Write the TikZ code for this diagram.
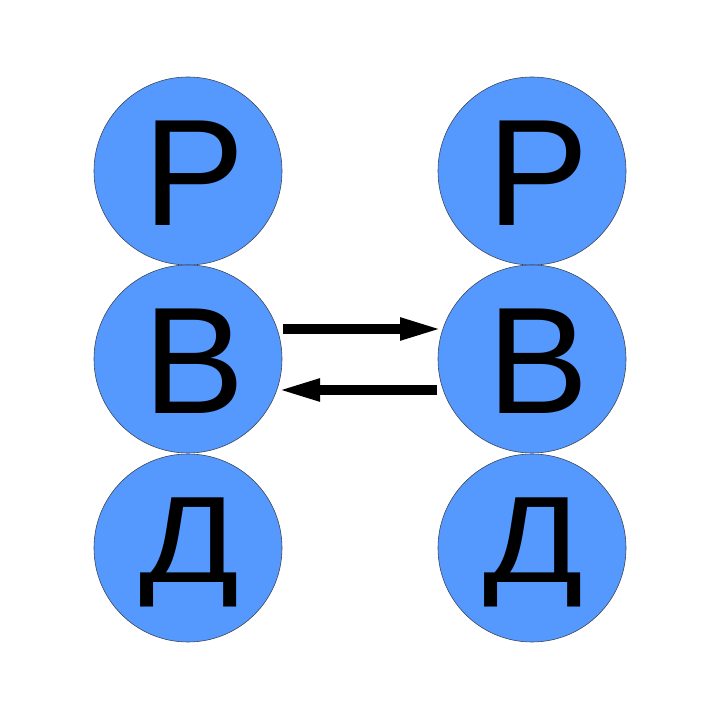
\documentclass[tikz,border=0pt]{standalone}
\usepackage{fontspec}
\setmainfont{Liberation Sans}
\usetikzlibrary{arrows.meta}
\definecolor{ballfill}{RGB}{85,153,255}
\definecolor{balledge}{RGB}{60,70,90}
\tikzset{
  ball/.style={circle, fill=ballfill, draw=balledge, line width=0.6pt, minimum size=188pt, inner sep=0pt},
  letter/.style={inner sep=0pt, anchor=base, font=\fontsize{152}{152}\selectfont},
  bigarrow/.style={line width=10pt, -{Triangle[length=44pt,width=20pt]}}
}
\begin{document}
\begin{tikzpicture}[x=1pt,y=1pt]
\useasboundingbox (0,0) rectangle (720,720);
\node[ball] (Pl) at (188,549) {};
\node[ball] (Bl) at (188,361) {};
\node[ball] (Dl) at (188,172) {};
\node[ball] (Pr) at (532,549) {};
\node[ball] (Br) at (532,361) {};
\node[ball] (Dr) at (532,172) {};
\node[letter] (tPl) at (194,494) {Р};
\node[letter] (tBl) at (194,306) {В};
\node[letter] (tDl) at (189,137) {\scalebox{0.97}[0.81]{Д}};
\node[letter] (tPr) at (538,494) {Р};
\node[letter] (tBr) at (538,306) {В};
\node[letter] (tDr) at (533,137) {\scalebox{0.97}[0.81]{Д}};
\draw[bigarrow] ([xshift=95pt,yshift=30pt]Bl.center) -- ([xshift=-88pt,yshift=30pt]Br.center);
\draw[bigarrow] ([xshift=-95pt,yshift=-31pt]Br.center) -- ([xshift=88pt,yshift=-31pt]Bl.center);
\end{tikzpicture}
\end{document}
